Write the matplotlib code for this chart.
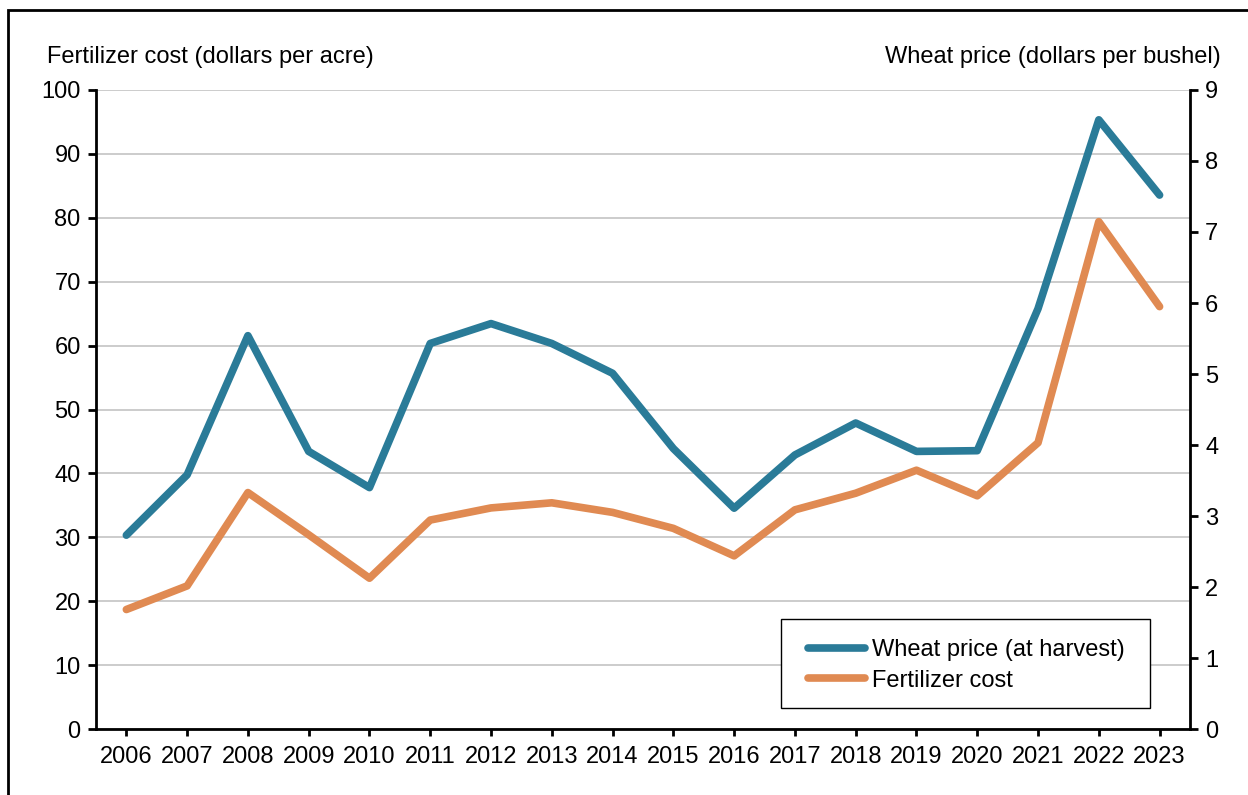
import matplotlib
matplotlib.use("Agg")
import matplotlib.pyplot as plt
from matplotlib.patches import Rectangle

years = ["2006", "2007", "2008", "2009", "2010", "2011", "2012", "2013", "2014",
         "2015", "2016", "2017", "2018", "2019", "2020", "2021", "2022", "2023"]
wheat_price = [2.73, 3.58, 5.54, 3.91, 3.40, 5.43, 5.71, 5.43, 5.01,
               3.95, 3.11, 3.86, 4.31, 3.91, 3.92, 5.92, 8.58, 7.52]
fertilizer_cost = [18.7, 22.4, 37.0, 30.4, 23.6, 32.7, 34.6, 35.4, 33.9,
                   31.4, 27.1, 34.3, 36.9, 40.5, 36.5, 44.8, 79.4, 66.1]
left_ticks = [0, 10, 20, 30, 40, 50, 60, 70, 80, 90, 100]
right_ticks = [0, 1, 2, 3, 4, 5, 6, 7, 8, 9]

plt.rcParams['font.family'] = ['Liberation Sans', 'DejaVu Sans']
TEAL = "#2a7b98"
ORANGE = "#e08a52"
FS = 17

fig = plt.figure(figsize=(12.48, 7.95), dpi=100)
ax = fig.add_axes([0.0769, 0.083, 0.8766, 0.8038])
ax2 = ax.twinx()

x = list(range(len(years)))
l2, = ax.plot(x, fertilizer_cost, color=ORANGE, lw=5.5, solid_capstyle='round',
              solid_joinstyle='round', label="Fertilizer cost", zorder=3)
l1, = ax2.plot(x, wheat_price, color=TEAL, lw=5.5, solid_capstyle='round',
               solid_joinstyle='round', label="Wheat price (at harvest)", zorder=3)

ax.set_xlim(-0.5, len(years) - 0.5)
ax.set_ylim(0, 100)
ax2.set_ylim(0, 9)
ax.set_xticks(x)
ax.set_xticklabels(years)
ax.set_yticks(left_ticks)
ax2.set_yticks(right_ticks)

ax.yaxis.grid(True, color="#c8c8c8", lw=1.3)
ax.set_axisbelow(True)

for a in (ax, ax2):
    a.spines['top'].set_visible(False)
    for s in ('left', 'right', 'bottom'):
        a.spines[s].set_linewidth(2.0)
        a.spines[s].set_color('black')
    a.tick_params(axis='both', labelsize=FS, width=2, length=6, color='black', pad=5)
ax.spines['right'].set_visible(False)
ax2.spines['left'].set_visible(False)
ax2.spines['bottom'].set_visible(False)
ax.tick_params(axis='x', length=5, pad=7)

fig.text(47 / 1248, 1 - 57 / 795, "Fertilizer cost (dollars per acre)", fontsize=FS,
         ha='left', va='center')
fig.text(1221 / 1248, 1 - 57 / 795, "Wheat price (dollars per bushel)", fontsize=FS,
         ha='right', va='center')

# legend frame drawn separately so horizontal and vertical padding can differ
ax2.add_patch(Rectangle((0.6261, 0.0329), 0.9634 - 0.6261, 0.1721 - 0.0329,
                        transform=ax2.transAxes, facecolor='white',
                        edgecolor='black', lw=1.0, zorder=9))
leg = ax2.legend(handles=[l1, l2], loc='upper left',
                 bbox_to_anchor=((808 - 96) / 1094, (729 - 639) / 639), fontsize=FS,
                 frameon=False, handlelength=2.4, handletextpad=0.3,
                 borderpad=0, labelspacing=0.37, borderaxespad=0)
leg.set_zorder(10)

fig.patches.append(Rectangle((8 / 1248, -0.1), 1.2, 1 - 10 / 795 + 0.1,
                             transform=fig.transFigure, fill=False,
                             edgecolor='black', lw=2.0, figure=fig))

fig.savefig("out.png", dpi=100, facecolor='white')
